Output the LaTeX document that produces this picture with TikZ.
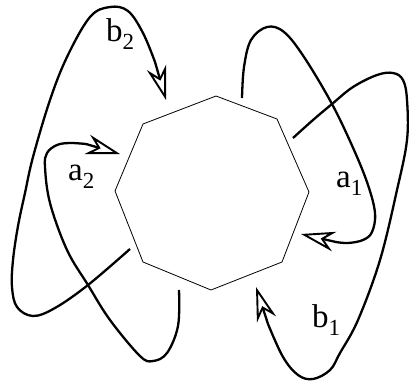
\documentclass[tikz,border=0pt]{standalone}
\usepackage{fontspec}
\setmainfont{Liberation Serif}
\usetikzlibrary{arrows.meta}
\newcommand\lbl[2]{{\fontsize{33}{33}\selectfont #1}{\fontsize{23}{23}\selectfont\raisebox{-8pt}{#2}}}
\tikzset{
  opentip/.tip={Stealth[open, fill=white, length=34pt, width=20pt, inset=11pt, line width=1.9pt]},
  poly/.style={line width=0.8pt, line join=miter},
  loopline/.style={line width=2.3pt, line cap=butt},
  tipline/.style={line width=2.3pt, line cap=butt, -opentip},
  labeltext/.style={anchor=base west, inner sep=0pt}}
\begin{document}
\begin{tikzpicture}[x=1pt,y=-1pt]
\useasboundingbox (0,0) rectangle (409,386);
% octagon
\draw[poly] (216,96) -- (277,119) -- (309,192) -- (282,262) -- (211,290)
  -- (143,262) -- (115,191) -- (143,124) -- cycle;
% b2
\draw[loopline] plot[smooth, tension=0.6] coordinates {(130,249) (88,285) (55,308) (33,316)
  (17,307) (12,287) (13,260) (18,226) (25,193) (33,157) (50,100) (67,57) (90,17) (110,7)
  (128,11) (143,33) (155,62)};
\coordinate (b2back) at (155,62);
\coordinate (b2tip) at (166,100);
\draw[tipline] (b2back) -- (b2tip);
% a2
\draw[loopline] plot[smooth, tension=0.6] coordinates {(179,290) (178,326) (167,353) (153,361)
  (140,356) (110,320) (88,285) (67,250) (50,203) (45,167) (47,153) (57,145) (70,143)
  (86,144)};
\coordinate (a2back) at (86,144);
\coordinate (a2tip) at (120,154);
\draw[tipline] (a2back) -- (a2tip);
% a1
\draw[loopline] plot[smooth, tension=0.6] coordinates {(242,98) (244,67) (251,40) (267,27)
  (284,32) (304,57) (332,104) (354,150) (368,185) (375,213) (372,232) (363,240) (348,243)
  (336,242)};
\coordinate (a1back) at (336,242);
\coordinate (a1tip) at (301,234);
\draw[tipline] (a1back) -- (a1tip);
% b1
\draw[loopline] plot[smooth, tension=0.6] coordinates {(293,138) (313,120) (332,104) (353,87)
  (377,75) (393,73) (403,80) (407,100) (407,140) (397,190) (380,260) (358,320) (340,353)
  (330,370) (313,379) (298,375) (283,357) (268,324)};
\coordinate (b1back) at (268,324);
\coordinate (b1tip) at (256,287);
\draw[tipline] (b1back) -- (b1tip);
% labels
\node[labeltext] (lb2) at (106,41) {\lbl{b}{2}};
\node[labeltext] (la2) at (68,180) {\lbl{a}{2}};
\node[labeltext] (la1) at (336,187) {\lbl{a}{1}};
\node[labeltext] (lb1) at (312,327) {\lbl{b}{1}};
\end{tikzpicture}
\end{document}
